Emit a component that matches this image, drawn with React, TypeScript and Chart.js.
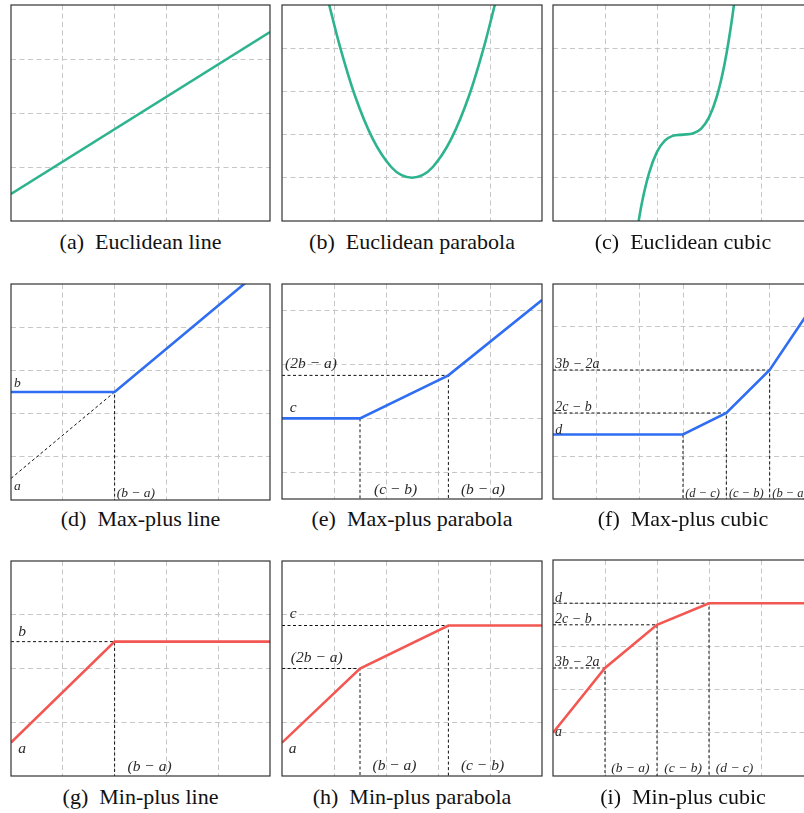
import React, { useEffect, useRef } from "react";
import { Chart, registerables } from "chart.js";
Chart.register(...registerables);

// ---------- data (grid units) ----------
const eucLineX = [0, 5];
const eucLineY = [0.5, 3.5];

const eucParabolaX = [0.9, 1.1, 1.4, 1.75, 2.1, 2.3, 2.5, 2.7, 2.9, 3.25, 3.6, 3.9, 4.1];
const eucParabolaY = [5.04, 4.1, 2.91, 1.89, 1.25, 1.06, 1.0, 1.06, 1.25, 1.89, 2.91, 4.1, 5.04];

const eucCubicX = [1.55, 1.7, 1.85, 2.0, 2.15, 2.3, 2.5, 2.7, 2.85, 3.0, 3.15, 3.3, 3.45, 3.55];
const eucCubicY = [-0.74, 0.36, 1.12, 1.6, 1.86, 1.97, 2.0, 2.03, 2.14, 2.4, 2.88, 3.64, 4.74, 5.7];

const maxLineX = [0, 2, 5];
const maxLineY = [2.5, 2.5, 5.5];
const maxLineGuideX = [0, 2, 2];
const maxLineGuideY = [0.5, 2.5, 0];

const maxParX = [0, 1.5, 3.2, 5];
const maxParY = [1.5, 1.5, 2.3, 3.7];
const maxParGuide1X = [0, 3.2, 3.2];
const maxParGuide1Y = [2.3, 2.3, 0];
const maxParGuide2X = [1.5, 1.5];
const maxParGuide2Y = [1.5, 0];

const maxCubX = [0, 3, 4, 5, 6];
const maxCubY = [1.5, 1.5, 2, 3, 4.5];
const maxCubGuide1X = [0, 5, 5];
const maxCubGuide1Y = [3, 3, 0];
const maxCubGuide2X = [0, 4, 4];
const maxCubGuide2Y = [2, 2, 0];
const maxCubGuide3X = [3, 3];
const maxCubGuide3Y = [1.5, 0];

const minLineX = [0, 2, 5];
const minLineY = [0.62, 2.5, 2.5];
const minLineGuideX = [0, 2, 2];
const minLineGuideY = [2.5, 2.5, 0];

const minParX = [0, 1.5, 3.2, 5];
const minParY = [0.62, 2.0, 2.8, 2.8];
const minParGuide1X = [0, 1.5, 1.5];
const minParGuide1Y = [2.0, 2.0, 0];
const minParGuide2X = [0, 3.2, 3.2];
const minParGuide2Y = [2.8, 2.8, 0];

const minCubX = [0, 1, 2, 3, 5];
const minCubY = [1.0, 2.5, 3.5, 4.0, 4.0];
const minCubGuide1X = [0, 3, 3];
const minCubGuide1Y = [4, 4, 0];
const minCubGuide2X = [0, 2, 2];
const minCubGuide2Y = [3.5, 3.5, 0];
const minCubGuide3X = [0, 1, 1];
const minCubGuide3Y = [2.5, 2.5, 0];

const captions = [
  "(a)  Euclidean line",
  "(b)  Euclidean parabola",
  "(c)  Euclidean cubic",
  "(d)  Max-plus line",
  "(e)  Max-plus parabola",
  "(f)  Max-plus cubic",
  "(g)  Min-plus line",
  "(h)  Min-plus parabola",
  "(i)  Min-plus cubic",
];

// ---------- styles ----------
const TEAL = "#2db38e";
const BLUE = "#2f6ef2";
const RED = "#f25752";
const GRID = "#c6c6c6";
const P = 6;

type Line = { xs: number[]; ys: number[]; color?: string; guide?: boolean; smooth?: boolean };
type Label = { t: string; x: number; y: number; s: number };
type Cfg = {
  left: number; top: number; w: number; h: number;
  xMax: number; yMax: number; xTicks: number[]; yTicks: number[];
  lines: Line[]; labels: Label[]; caption: string; capY: number;
};

const ints = (a: number, b: number) => { const r: number[] = []; for (let i = a; i <= b; i++) r.push(i); return r; };

const C1 = 11, C2 = 282, C3 = 553;
const panels: Cfg[] = [
  { left: C1, top: 5, w: 259, h: 216, xMax: 5, yMax: 4, xTicks: ints(1, 4), yTicks: ints(1, 3),
    lines: [{ xs: eucLineX, ys: eucLineY, color: TEAL }], labels: [], caption: captions[0], capY: 242 },
  { left: C2, top: 5, w: 260, h: 216, xMax: 5, yMax: 5, xTicks: ints(1, 4), yTicks: ints(1, 4),
    lines: [{ xs: eucParabolaX, ys: eucParabolaY, color: TEAL, smooth: true }], labels: [], caption: captions[1], capY: 242 },
  { left: C3, top: 5, w: 260, h: 216, xMax: 5, yMax: 5, xTicks: ints(1, 4), yTicks: ints(1, 4),
    lines: [{ xs: eucCubicX, ys: eucCubicY, color: TEAL, smooth: true }], labels: [], caption: captions[2], capY: 242 },

  { left: C1, top: 284, w: 259, h: 216, xMax: 5, yMax: 5, xTicks: ints(1, 4), yTicks: ints(1, 4),
    lines: [{ xs: maxLineX, ys: maxLineY, color: BLUE }, { xs: maxLineGuideX, ys: maxLineGuideY, guide: true }],
    labels: [{ t: "b", x: 0.06, y: 2.69, s: 13.5 }, { t: "a", x: 0.06, y: 0.32, s: 13.5 }, { t: "(b − a)", x: 2.04, y: 0.14, s: 13.5 }],
    caption: captions[3], capY: 519 },
  { left: C2, top: 284, w: 260, h: 215, xMax: 5, yMax: 4, xTicks: ints(1, 4), yTicks: [0.5, 1.5, 2.5, 3.5],
    lines: [{ xs: maxParX, ys: maxParY, color: BLUE }, { xs: maxParGuide1X, ys: maxParGuide1Y, guide: true }, { xs: maxParGuide2X, ys: maxParGuide2Y, guide: true }],
    labels: [{ t: "(2b − a)", x: 0.06, y: 2.51, s: 15.5 }, { t: "c", x: 0.15, y: 1.69, s: 15.5 }, { t: "(c − b)", x: 1.77, y: 0.17, s: 15.5 }, { t: "(b − a)", x: 3.44, y: 0.17, s: 15.5 }],
    caption: captions[4], capY: 519 },
  { left: C3, top: 284, w: 260, h: 215, xMax: 6, yMax: 5, xTicks: ints(1, 5), yTicks: ints(1, 4),
    lines: [{ xs: maxCubX, ys: maxCubY, color: BLUE }, { xs: maxCubGuide1X, ys: maxCubGuide1Y, guide: true }, { xs: maxCubGuide2X, ys: maxCubGuide2Y, guide: true }, { xs: maxCubGuide3X, ys: maxCubGuide3Y, guide: true }],
    labels: [{ t: "3b − 2a", x: 0.05, y: 3.13, s: 14 }, { t: "2c − b", x: 0.05, y: 2.13, s: 14 }, { t: "d", x: 0.05, y: 1.6, s: 14 },
      { t: "(d − c)", x: 3.05, y: 0.12, s: 12.5 }, { t: "(c − b)", x: 4.06, y: 0.12, s: 12.5 }, { t: "(b − a)", x: 5.06, y: 0.12, s: 12.5 }],
    caption: captions[5], capY: 519 },

  { left: C1, top: 561, w: 259, h: 215, xMax: 5, yMax: 4, xTicks: ints(1, 4), yTicks: ints(1, 3),
    lines: [{ xs: minLineX, ys: minLineY, color: RED }, { xs: minLineGuideX, ys: minLineGuideY, guide: true }],
    labels: [{ t: "b", x: 0.14, y: 2.68, s: 15.5 }, { t: "a", x: 0.14, y: 0.5, s: 15.5 }, { t: "(b − a)", x: 2.25, y: 0.17, s: 15.5 }],
    caption: captions[6], capY: 797 },
  { left: C2, top: 561, w: 260, h: 215, xMax: 5, yMax: 4, xTicks: ints(1, 4), yTicks: ints(1, 3),
    lines: [{ xs: minParX, ys: minParY, color: RED }, { xs: minParGuide1X, ys: minParGuide1Y, guide: true }, { xs: minParGuide2X, ys: minParGuide2Y, guide: true }],
    labels: [{ t: "c", x: 0.15, y: 3.01, s: 15.5 }, { t: "(2b − a)", x: 0.17, y: 2.19, s: 15.5 }, { t: "a", x: 0.13, y: 0.5, s: 15.5 },
      { t: "(b − a)", x: 1.74, y: 0.19, s: 15.5 }, { t: "(c − b)", x: 3.44, y: 0.19, s: 15.5 }],
    caption: captions[7], capY: 797 },
  { left: C3, top: 560, w: 260, h: 216, xMax: 5, yMax: 5, xTicks: ints(1, 4), yTicks: ints(1, 4),
    lines: [{ xs: minCubX, ys: minCubY, color: RED }, { xs: minCubGuide1X, ys: minCubGuide1Y, guide: true }, { xs: minCubGuide2X, ys: minCubGuide2Y, guide: true }, { xs: minCubGuide3X, ys: minCubGuide3Y, guide: true }],
    labels: [{ t: "d", x: 0.04, y: 4.11, s: 14 }, { t: "2c − b", x: 0.04, y: 3.63, s: 14 }, { t: "3b − 2a", x: 0.04, y: 2.63, s: 14 }, { t: "a", x: 0.04, y: 1.0, s: 14 },
      { t: "(b − a)", x: 1.12, y: 0.18, s: 13.5 }, { t: "(c − b)", x: 2.14, y: 0.18, s: 13.5 }, { t: "(d − c)", x: 3.13, y: 0.18, s: 13.5 }],
    caption: captions[8], capY: 797 },
];

const framePlugin = {
  id: "frame",
  afterDraw(chart: any) {
    const { ctx, chartArea: a } = chart;
    ctx.save();
    ctx.strokeStyle = "#333";
    ctx.lineWidth = 1.2;
    ctx.strokeRect(a.left, a.top, a.right - a.left, a.bottom - a.top);
    ctx.restore();
  },
};

function Panel({ cfg }: { cfg: Cfg }) {
  const ref = useRef<HTMLCanvasElement>(null);
  useEffect(() => {
    const datasets = cfg.lines.map((l) => ({
      data: l.xs.map((x, i) => ({ x, y: l.ys[i] })),
      borderColor: l.guide ? "#111" : l.color,
      borderWidth: l.guide ? 1 : 2.6,
      borderDash: l.guide ? [3, 2.5] : [],
      pointRadius: 0,
      fill: false,
      tension: 0,
      cubicInterpolationMode: l.smooth ? "monotone" : "default",
      clip: 0,
    }));
    const labelPlugin = {
      id: "mathLabels",
      afterDatasetsDraw(chart: any) {
        const { ctx } = chart;
        const xs = chart.scales.x, ys = chart.scales.y;
        ctx.save();
        ctx.fillStyle = "#2a2a2a";
        ctx.textAlign = "left";
        ctx.textBaseline = "middle";
        cfg.labels.forEach((lb) => {
          ctx.font = `italic ${lb.s}px "Liberation Serif", "DejaVu Serif", serif`;
          ctx.fillText(lb.t, xs.getPixelForValue(lb.x), ys.getPixelForValue(lb.y));
        });
        ctx.restore();
      },
    };
    const axis = (max: number, ticks: number[]) => ({
      type: "linear",
      min: 0,
      max,
      ticks: { display: false },
      grid: { color: GRID, lineWidth: 1, drawTicks: false },
      border: { display: false, dash: [5, 3.5] },
      afterBuildTicks: (s: any) => { s.ticks = ticks.map((v) => ({ value: v })); },
    });
    const chart = new Chart(ref.current as HTMLCanvasElement, {
      type: "line",
      data: { datasets: datasets as any },
      options: {
        animation: false,
        responsive: false,
        maintainAspectRatio: false,
        layout: { padding: P },
        plugins: { legend: { display: false }, tooltip: { enabled: false } },
        scales: { x: axis(cfg.xMax, cfg.xTicks) as any, y: axis(cfg.yMax, cfg.yTicks) as any },
      },
      plugins: [framePlugin, labelPlugin],
    });
    return () => chart.destroy();
  }, []);
  return (
    <>
      <canvas
        ref={ref}
        width={cfg.w + 2 * P}
        height={cfg.h + 2 * P}
        style={{ position: "absolute", left: cfg.left - P, top: cfg.top - P, width: cfg.w + 2 * P, height: cfg.h + 2 * P }}
      />
      <div
        style={{
          position: "absolute",
          left: cfg.left + cfg.w / 2 - 150,
          width: 300,
          top: cfg.capY - 13,
          lineHeight: "26px",
          textAlign: "center",
          whiteSpace: "pre",
          fontFamily: '"Liberation Serif", "Times New Roman", serif',
          fontSize: 22,
          color: "#111",
        }}
      >
        {cfg.caption}
      </div>
    </>
  );
}

export default function App() {
  return (
    <div style={{ position: "fixed", left: 0, top: 0, width: 804, height: 813, overflow: "hidden", background: "#fff" }}>
      {panels.map((p, i) => (
        <Panel key={i} cfg={p} />
      ))}
    </div>
  );
}
